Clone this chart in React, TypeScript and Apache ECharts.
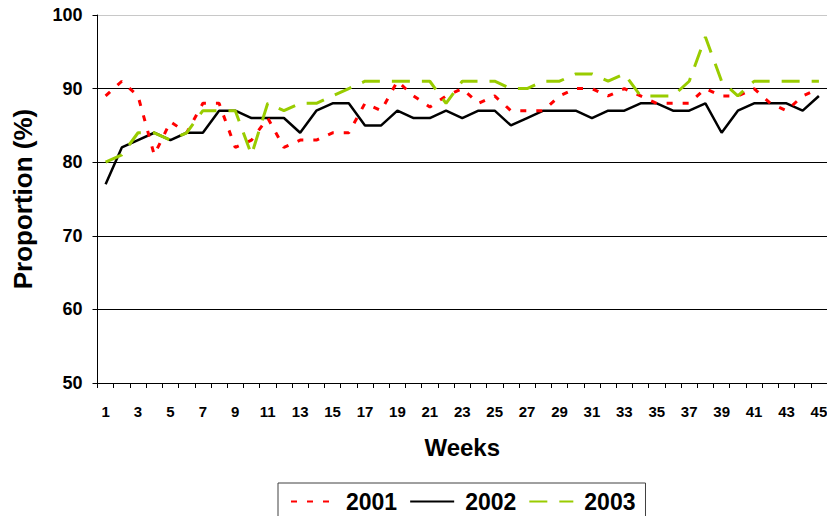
import React, { useEffect, useRef } from "react";
import * as echarts from "echarts";

const weeks: string[] = Array.from({ length: 45 }, (_, i) => String(i + 1));

const s2001: number[] = [
  89, 91, 89, 81, 85.5, 84, 88, 88, 82, 83, 86, 82, 83, 83, 84, 84, 88, 87, 91, 89, 87.5, 89, 90,
  88, 89, 87, 87, 87, 89, 90, 90, 89, 90, 89, 88, 88, 88, 90, 89, 89, 90, 88, 87, 89, 90,
];
const s2002: number[] = [
  77, 82, 83, 84, 83, 84, 84, 87, 87, 86, 86, 86, 84, 87, 88, 88, 85, 85, 87, 86, 86, 87, 86, 87,
  87, 85, 86, 87, 87, 87, 86, 87, 87, 88, 88, 87, 87, 88, 84, 87, 88, 88, 88, 87, 89,
];
const s2003: number[] = [
  80, 81, 84, 84, 83, 84, 87, 87, 87, 81, 88, 87, 88, 88, 89, 90, 91, 91, 91, 91, 91, 88, 91, 91,
  91, 90, 90, 91, 91, 92, 92, 91, 92, 89, 89, 89, 91, 97, 91, 89, 91, 91, 91, 91, 91,
];

const seriesNames = ["2001", "2002", "2003"];

export default function App() {
  const ref = useRef<HTMLDivElement>(null);
  useEffect(() => {
    if (!ref.current) return;
    const chart = echarts.init(ref.current, undefined, { renderer: "svg" });
    const font = "Arial, 'Liberation Sans', sans-serif";
    chart.setOption({
      animation: false,
      backgroundColor: "#ffffff",
      textStyle: { fontFamily: font },
      grid: {
        left: 97.5,
        right: 0,
        top: 15,
        bottom: 133,
        containLabel: false,
        outerBoundsMode: "none",
      },
      legend: {
        data: seriesNames,
        left: 278,
        top: 483,
        padding: [7, 10, 10, 12],
        itemGap: 12,
        itemWidth: 44,
        itemHeight: 14,
        itemStyle: { opacity: 0 },
        borderColor: "#404040",
        borderWidth: 1,
        textStyle: {
          fontFamily: font,
          fontWeight: "bold",
          fontSize: 23,
          color: "#000",
          padding: [0, 0, 0, 6],
        },
      },
      xAxis: {
        type: "category",
        data: weeks,
        boundaryGap: true,
        name: "Weeks",
        nameLocation: "middle",
        nameGap: 52,
        nameTextStyle: { fontFamily: font, fontWeight: "bold", fontSize: 24, color: "#000", verticalAlign: "top" },
        axisLine: { lineStyle: { color: "#000", width: 1 } },
        axisTick: { show: true, interval: 0, length: 5, lineStyle: { color: "#000" } },
        axisLabel: { interval: 1, margin: 21, fontFamily: font, fontWeight: "bold", fontSize: 15, color: "#000" },
        splitLine: { show: false },
      },
      yAxis: {
        type: "value",
        min: 50,
        max: 100,
        interval: 10,
        name: "Proportion (%)",
        nameLocation: "middle",
        nameGap: 62,
        nameTextStyle: { fontFamily: font, fontWeight: "bold", fontSize: 26, color: "#000" },
        axisLine: { show: true, lineStyle: { color: "#000", width: 1 } },
        axisTick: { show: true, length: 5, lineStyle: { color: "#000" } },
        axisLabel: { margin: 15, fontFamily: font, fontWeight: "bold", fontSize: 18, color: "#000" },
        splitLine: {
          show: true,
          lineStyle: { color: ["#000", "#000", "#000", "#000", "#000", "#c8c8c8"], width: 1 },
        },
      },
      series: [
        {
          name: seriesNames[0],
          type: "line",
          data: s2001,
          showSymbol: false,
          symbol: "none",
          color: "#ff0000",
          lineStyle: { color: "#ff0000", width: 3, type: [6, 10] },
          z: 3,
        },
        {
          name: seriesNames[1],
          type: "line",
          data: s2002,
          showSymbol: false,
          symbol: "none",
          color: "#000000",
          lineStyle: { color: "#000000", width: 2.5, type: "solid" },
          z: 2,
        },
        {
          name: seriesNames[2],
          type: "line",
          data: s2003,
          showSymbol: false,
          symbol: "none",
          color: "#99cc00",
          lineStyle: { color: "#99cc00", width: 3, type: [18, 12] },
          z: 4,
        },
      ],
    });
    return () => chart.dispose();
  }, []);
  return (
    <div
      ref={ref}
      style={{ position: "fixed", left: 0, top: 0, width: 827, height: 516, background: "#fff" }}
    />
  );
}
